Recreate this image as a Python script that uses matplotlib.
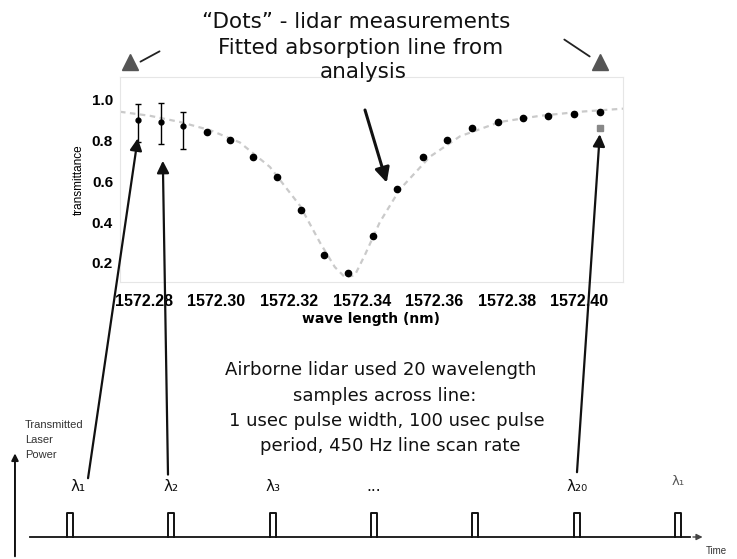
import matplotlib
matplotlib.use("Agg")
import matplotlib.pyplot as plt
from matplotlib.patches import ConnectionPatch

# ---------------- data ----------------
wl = [1572.2783, 1572.2847, 1572.2907, 1572.2974, 1572.3037, 1572.3100, 1572.3166,
      1572.3232, 1572.3296, 1572.3362, 1572.3431, 1572.3497, 1572.3569, 1572.3635,
      1572.3704, 1572.3775, 1572.3844, 1572.3913, 1572.3985, 1572.4056]
trans = [0.90, 0.89, 0.87, 0.84, 0.80, 0.72, 0.62, 0.46, 0.24, 0.15,
         0.33, 0.56, 0.72, 0.80, 0.86, 0.89, 0.91, 0.92, 0.93, 0.94]
err_lo = [0.11, 0.11, 0.11]
err_hi = [0.08, 0.095, 0.07]
extra_wl = [1572.4056]
extra_tr = [0.86]

fit_wl = [1572.2734, 1572.2817, 1572.2899, 1572.2982, 1572.3064, 1572.3147, 1572.3230,
          1572.3285, 1572.3326, 1572.3354, 1572.3381, 1572.3409, 1572.3450, 1572.3505,
          1572.3588, 1572.3671, 1572.3781, 1572.3891, 1572.4001, 1572.4120]
fit_tr = [0.94, 0.92, 0.89, 0.85, 0.79, 0.67, 0.48, 0.30, 0.18, 0.13,
          0.14, 0.24, 0.40, 0.56, 0.72, 0.82, 0.89, 0.92, 0.94, 0.955]

xticks = [1572.28, 1572.30, 1572.32, 1572.34, 1572.36, 1572.38, 1572.40]
xticklabels = ["1572.28", "1572.30", "1572.32", "1572.34", "1572.36", "1572.38", "1572.40"]
yticks = [0.2, 0.4, 0.6, 0.8, 1.0]
yticklabels = ["0.2", "0.4", "0.6", "0.8", "1.0"]

pulse_times = [0, 100, 200, 300, 400, 500, 600]        # usec
pulse_labels = ["λ\u2081", "λ\u2082", "λ\u2083", "...", "", "λ\u2082\u2080", "λ\u2081"]

W, H = 737, 559
fig = plt.figure(figsize=(W / 100, H / 100), dpi=100)
fig.patch.set_facecolor("white")

def px_axes(l, t, r, b):
    return [l / W, 1 - b / H, (r - l) / W, (b - t) / H]

# ---------------- transmittance plot ----------------
ax = fig.add_axes(px_axes(120, 77, 623, 282))
ax.plot(fit_wl, fit_tr, color="#cacaca", lw=1.6, ls=(0, (2.5, 2)), zorder=1)
ax.plot(wl[3:], trans[3:], "o", color="black", ms=4.5, zorder=3)
ax.errorbar(wl[:3], trans[:3], yerr=[err_lo, err_hi], fmt="o", color="black",
            ms=3.5, lw=1.0, capsize=2, zorder=3)
ax.plot(extra_wl, extra_tr, "s", color="#888888", ms=5, zorder=3)
ax.set_xlim(1572.2734, 1572.4120)
ax.set_ylim(0.107, 1.11)
ax.set_xticks(xticks)
ax.set_xticklabels(xticklabels, fontsize=11.5, fontweight="bold", family="Liberation Sans")
ax.set_yticks(yticks)
ax.set_yticklabels(yticklabels, fontsize=11, fontweight="bold", family="Liberation Sans")
ax.tick_params(axis="x", length=0, pad=9)
ax.tick_params(axis="y", length=0, pad=5)
for s in ax.spines.values():
    s.set_color("#e6e6e6")
ax.set_ylabel("transmittance", fontsize=8.5, family="Liberation Sans", labelpad=5)
ax.set_xlabel("wave length (nm)", fontsize=10, fontweight="bold", family="DejaVu Sans", labelpad=2)

# ---------------- overlay (annotations) ----------------
ov = fig.add_axes([0, 0, 1, 1], zorder=5)
ov.set_xlim(0, W)
ov.set_ylim(H, 0)
ov.axis("off")
ov.patch.set_alpha(0)

title_font = dict(family="DejaVu Sans", fontsize=15.5, ha="center", va="center", color="#111111")
ov.text(356, 22, "\u201cDots\u201d - lidar measurements", **title_font)
ov.text(361, 48, "Fitted absorption line from", **title_font)
ov.text(363, 72, "analysis", **title_font)

mid_font = dict(family="DejaVu Sans", fontsize=13, ha="center", va="center", color="#111111")
ov.text(381, 370, "Airborne lidar used 20 wavelength", **mid_font)
ov.text(385, 396, "samples across line:", **mid_font)
ov.text(387, 421, "1 usec pulse width, 100 usec pulse", **mid_font)
ov.text(390, 446, "period, 450 Hz line scan rate", **mid_font)

# small triangles with arrows at top
ov.plot([130], [62], marker="^", color="#555555", ms=11)
ov.plot([600], [62], marker="^", color="#555555", ms=11)
ov.annotate("", xy=(138, 63), xytext=(162, 50),
            arrowprops=dict(arrowstyle="-", color="#222222", lw=1.3))
ov.annotate("", xy=(592, 58), xytext=(562, 38),
            arrowprops=dict(arrowstyle="-", color="#222222", lw=1.3))

ov.text(25, 425, "Transmitted", fontsize=8, family="Liberation Sans", color="#333333", va="center")
ov.text(25, 440, "Laser", fontsize=8, family="Liberation Sans", color="#333333", va="center")
ov.text(25, 455, "Power", fontsize=8, family="Liberation Sans", color="#333333", va="center")
ov.text(716, 551, "Time", fontsize=7, family="Liberation Sans", color="#333333", ha="center", va="center")

# arrow from "analysis" to the fitted line
con = ConnectionPatch(xyA=(365, 110), coordsA=ov.transData,
                      xyB=(1572.3469, 0.593), coordsB=ax.transData,
                      arrowstyle="-|>", mutation_scale=22, lw=2.2, color="#111111")
fig.add_artist(con)

# ---------------- timing diagram ----------------
at = fig.add_axes(px_axes(0, 440, W, H), zorder=4)
at.set_xlim(-69.08, 658.2)
at.set_ylim(-0.9167, 4.0417)
at.axis("off")
at.patch.set_alpha(0)

at.plot([-39.5, 612], [0, 0], color="#111111", lw=1.3)
at.annotate("", xy=(627, 0), xytext=(612, 0),
            arrowprops=dict(arrowstyle="-|>", color="#444444", lw=1.0, mutation_scale=9))
at.annotate("", xy=(-54.3, 3.6), xytext=(-54.3, -0.92),
            arrowprops=dict(arrowstyle="-|>", color="#111111", lw=1.4, mutation_scale=10))

pw = 3.0
for t, lab in zip(pulse_times, pulse_labels):
    at.plot([t - pw, t - pw, t + pw, t + pw], [0, 1, 1, 0], color="#111111", lw=1.4)
    if lab:
        at.text(t + (8 if t == 0 else 0), 2.1 if t < 600 else 2.3, lab,
                fontsize=11 if t < 600 else 9.5, ha="center", va="center",
                family="DejaVu Sans", color="#111111" if t < 600 else "#555555")

# arrows from pulse labels up to the measurements
for (t0, y0), (xw, yv) in [((17.8, 2.45), (wl[0], 0.81)),
                           ((96.7, 2.6), (1572.2852, 0.70)),
                           ((500.3, 2.7), (wl[-1], 0.83))]:
    c = ConnectionPatch(xyA=(t0, y0), coordsA=at.transData,
                        xyB=(xw, yv), coordsB=ax.transData,
                        arrowstyle="-|>", mutation_scale=18, lw=1.6, color="#111111")
    fig.add_artist(c)

fig.savefig("out.png", dpi=100, facecolor="white")
